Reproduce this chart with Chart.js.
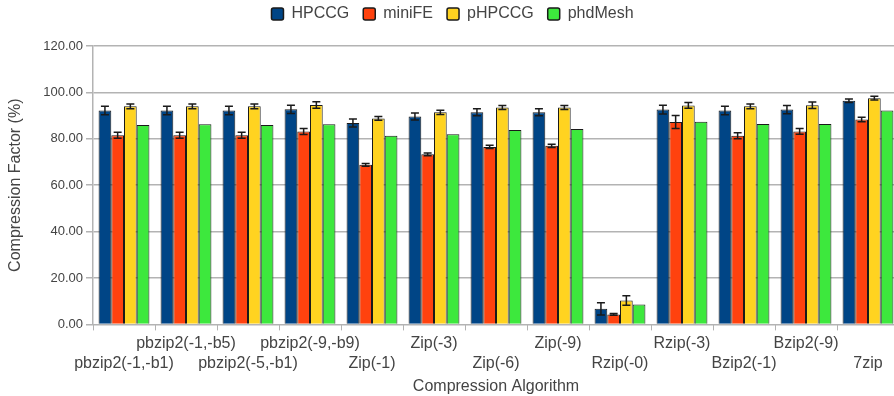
<!DOCTYPE html>
<html>
<head>
<meta charset="utf-8">
<script src="https://cdn.jsdelivr.net/npm/chart.js@4"></script>
<style>
  html, body { margin: 0; padding: 0; background: #fff; overflow: hidden; }
  #wrap { width: 900px; height: 406px; margin-top: -10px; }
</style>
</head>
<body>
<div id="wrap"><canvas id="compChart"></canvas></div>
<script>
const algorithms = ['pbzip2(-1,-b1)', 'pbzip2(-1,-b5)', 'pbzip2(-5,-b1)', 'pbzip2(-9,-b9)',
  'Zip(-1)', 'Zip(-3)', 'Zip(-6)', 'Zip(-9)', 'Rzip(-0)', 'Rzip(-3)', 'Bzip2(-1)', 'Bzip2(-9)', '7zip'];

const hpccg    = [92.2, 92.2, 92.2, 92.7, 86.8, 89.6, 91.4, 91.4, 6.7, 92.6, 92.2, 92.6, 96.4];
const minife   = [81.5, 81.5, 81.5, 83.1, 68.8, 73.3, 76.5, 77.0, 4.3, 87.2, 81.3, 83.2, 88.3];
const phpccg   = [94.0, 94.0, 94.0, 94.6, 88.8, 91.4, 93.5, 93.5, 10.3, 94.4, 94.0, 94.5, 97.5];
const phdmesh  = [86.0, 86.3, 86.0, 86.3, 81.3, 82.0, 83.8, 84.2, 8.6, 87.3, 86.4, 86.4, 92.2];

const hpccgErr   = [1.8, 1.8, 1.8, 1.8, 1.7, 1.5, 1.5, 1.5, 2.6, 1.9, 1.8, 1.8, 0.8];
const minifeErr  = [1.3, 1.3, 1.3, 1.3, 0.6, 0.6, 0.7, 0.7, 0.4, 2.8, 1.3, 1.2, 1.0];
const phpccgErr  = [1.0, 1.0, 1.0, 1.4, 0.8, 0.9, 0.9, 0.9, 2.0, 1.2, 1.0, 1.4, 0.8];
const phdmeshErr = [0, 0, 0, 0, 0, 0, 0, 0, 0, 0, 0, 0, 0];

const yTicks = [0, 20, 40, 60, 80, 100, 120];

const errorBars = {
  id: 'errorBars',
  afterDatasetsDraw(chart) {
    const ctx = chart.ctx;
    const yScale = chart.scales.y;
    ctx.save();
    ctx.strokeStyle = '#1a1a1a';
    ctx.lineWidth = 1.5;
    chart.data.datasets.forEach((ds, i) => {
      const meta = chart.getDatasetMeta(i);
      meta.data.forEach((bar, j) => {
        const e = ds.errors[j];
        if (!e) return;
        const v = ds.data[j];
        const top = yScale.getPixelForValue(v + e);
        const bot = yScale.getPixelForValue(v - e);
        const x = bar.x;
        ctx.beginPath();
        ctx.moveTo(x, top); ctx.lineTo(x, bot);
        ctx.moveTo(x - 4, top); ctx.lineTo(x + 4, top);
        ctx.moveTo(x - 4, bot); ctx.lineTo(x + 4, bot);
        ctx.stroke();
      });
    });
    ctx.restore();
  }
};

// extra room between the legend and the plot
const legendGap = {
  id: 'legendGap',
  beforeInit(chart) {
    const fit = chart.legend.fit;
    chart.legend.fit = function () {
      fit.call(this);
      this.height += 14;
    };
  }
};

function series(label, data, errors, color) {
  return {
    label: label,
    data: data,
    errors: errors,
    backgroundColor: color,
    borderColor: '#1a1a1a',
    borderWidth: 1,
    categoryPercentage: 0.82,
    barPercentage: 1.0
  };
}

Chart.defaults.font.family = '"Liberation Sans", Arial, sans-serif';
Chart.defaults.color = '#444';

const ctx = document.getElementById('compChart').getContext('2d');
new Chart(ctx, {
  type: 'bar',
  data: {
    labels: algorithms,
    datasets: [
      series('HPCCG', hpccg, hpccgErr, '#004586'),
      series('miniFE', minife, minifeErr, '#ff420e'),
      series('pHPCCG', phpccg, phpccgErr, '#ffd320'),
      series('phdMesh', phdmesh, phdmeshErr, '#3de83d')
    ]
  },
  options: {
    responsive: true,
    maintainAspectRatio: false,
    animation: false,
    layout: { padding: { top: 2, right: 1, bottom: 0, left: 6 } },
    plugins: {
      legend: {
        position: 'top',
        labels: {
          font: { size: 16 },
          color: '#444',
          boxWidth: 12,
          boxHeight: 12,
          padding: 14,
          generateLabels(chart) {
            return chart.data.datasets.map((ds, i) => ({
              text: ds.label,
              fillStyle: ds.backgroundColor,
              strokeStyle: '#1a1a1a',
              lineWidth: 1.5,
              borderRadius: 2,
              datasetIndex: i,
              fontColor: '#444'
            }));
          }
        }
      },
      tooltip: { enabled: false }
    },
    scales: {
      x: {
        grid: { display: true, drawOnChartArea: false, drawTicks: true, tickLength: 6, color: '#b3b3b3' },
        border: { color: '#b3b3b3', width: 1 },
        ticks: {
          autoSkip: false,
          maxRotation: 0,
          minRotation: 0,
          padding: 4,
          font: { size: 16 },
          color: '#444',
          callback(value, index) {
            const name = algorithms[index];
            return index % 2 === 0 ? ['', name] : [name, ''];
          }
        },
        title: { display: true, text: 'Compression Algorithm', font: { size: 16 }, color: '#444', padding: { top: 0, bottom: 0 } }
      },
      y: {
        min: 0,
        max: 120,
        afterFit(scale) { scale.width = 87; },
        afterBuildTicks(scale) { scale.ticks = yTicks.map(v => ({ value: v })); },
        grid: { color: '#b3b3b3', lineWidth: 1.5, tickLength: 7 },
        border: { color: '#b3b3b3', width: 1.5 },
        ticks: {
          font: { size: 13 },
          color: '#444',
          padding: 3,
          callback: v => v.toFixed(2)
        },
        title: { display: true, text: 'Compression Factor (%)', font: { size: 16 }, color: '#444', padding: 0 }
      }
    }
  },
  plugins: [errorBars, legendGap]
});
</script>
</body>
</html>
